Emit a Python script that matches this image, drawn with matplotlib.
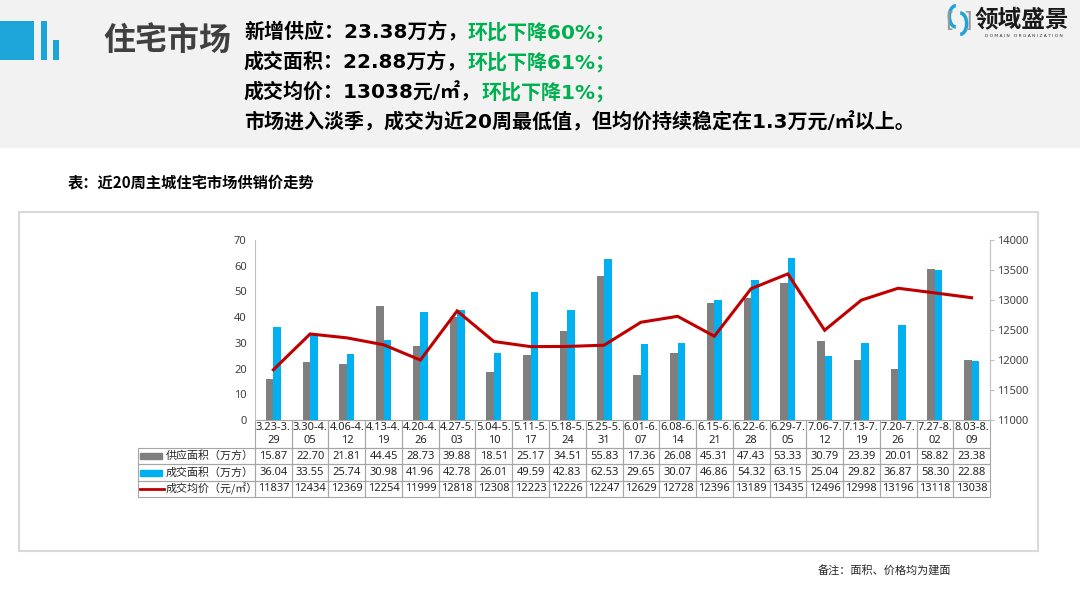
import matplotlib
matplotlib.use("Agg")
import matplotlib.pyplot as plt
import numpy as np
from matplotlib.patches import Rectangle, Arc

# data
weeks = ["3.23-3.29", "3.30-4.05", "4.06-4.12", "4.13-4.19", "4.20-4.26",
         "4.27-5.03", "5.04-5.10", "5.11-5.17", "5.18-5.24", "5.25-5.31",
         "6.01-6.07", "6.08-6.14", "6.15-6.21", "6.22-6.28", "6.29-7.05",
         "7.06-7.12", "7.13-7.19", "7.20-7.26", "7.27-8.02", "8.03-8.09"]
supply = [15.87, 22.70, 21.81, 44.45, 28.73, 39.88, 18.51, 25.17, 34.51, 55.83,
          17.36, 26.08, 45.31, 47.43, 53.33, 30.79, 23.39, 20.01, 58.82, 23.38]
deal = [36.04, 33.55, 25.74, 30.98, 41.96, 42.78, 26.01, 49.59, 42.83, 62.53,
        29.65, 30.07, 46.86, 54.32, 63.15, 25.04, 29.82, 36.87, 58.30, 22.88]
price = [11837, 12434, 12369, 12254, 11999, 12818, 12308, 12223, 12226, 12247,
         12629, 12728, 12396, 13189, 13435, 12496, 12998, 13196, 13118, 13038]
row_names = ["供应面积（万方）", "成交面积（万方）", "成交均价（元/㎡）"]

GRAY = "#7F7F7F"
BLUE = "#00B0F0"
RED = "#C00000"
GREEN = "#00B050"

W, H = 1080, 608
CJK = ["Noto Sans CJK SC", "DejaVu Sans"]
MIX = ["DejaVu Sans", "Noto Sans CJK SC"]
NUM = ["Noto Sans", "Noto Sans CJK SC"]


def px(x, y):
    return x / W, 1 - y / H


fig = plt.figure(figsize=(10.8, 6.08), dpi=100)
fig.patch.set_facecolor("white")

# header band
fig.patches.append(Rectangle(px(0, 148), 1, 148 / H, transform=fig.transFigure,
                             facecolor="#F2F2F2", edgecolor="none", zorder=0))
for x0, x1, y0 in [(0, 34, 21), (41, 47, 21), (53, 59, 40)]:
    fig.patches.append(Rectangle(px(x0, 60), (x1 - x0) / W, (60 - y0) / H,
                                 transform=fig.transFigure, facecolor="#1CA5D8",
                                 edgecolor="none", zorder=1))

fig.text(*px(103, 41), "住宅市场", family=CJK, fontsize=23, fontweight="bold",
         color="#404040", va="center", ha="left")

renderer = fig.canvas.get_renderer()


def seg_line(x, y, parts, size=14.4):
    # draw coloured pieces one after another on one line
    xf, yf = px(x, y)
    for s, c in parts:
        t = fig.text(xf, yf, s, family=MIX, fontsize=size, fontweight="bold",
                     color=c, va="center", ha="left")
        bb = t.get_window_extent(renderer=renderer)
        xf = bb.x1 / W


seg_line(244, 32, [("新增供应：23.38万方，", "black"), ("环比下降60%；", GREEN)])
seg_line(244, 62, [("成交面积：22.88万方，", "black"), ("环比下降61%；", GREEN)])
seg_line(244, 92, [("成交均价：13038元/㎡，", "black"), ("环比下降1%；", GREEN)])
seg_line(244, 122, [("市场进入淡季，成交为近20周最低值，但均价持续稳定在1.3万元/㎡以上。", "black")])

# logo
fig.text(*px(1022, 19), "领域盛景", family=CJK, fontsize=17, fontweight="bold",
         color="#1a1a1a", va="center", ha="center")
fig.text(*px(1024, 36), "D O M A I N   O R G A N I Z A T I O N", family=["DejaVu Sans"],
         fontsize=3.2, color="#333333", va="center", ha="center")
lx, ly = px(958, 20)
fig.patches.append(Arc((lx - 0.002, ly + 0.006), 0.012, 0.035, theta1=90, theta2=270,
                       transform=fig.transFigure, color="#1CA5D8", lw=2.5))
fig.patches.append(Arc((lx + 0.002, ly - 0.006), 0.012, 0.035, theta1=270, theta2=90,
                       transform=fig.transFigure, color="#1CA5D8", lw=2.5))
fig.text(*px(949, 21), "[", family=["DejaVu Sans"], fontsize=16, color="#999999",
         va="center", ha="center")
fig.text(*px(968, 21), "]", family=["DejaVu Sans"], fontsize=16, color="#999999",
         va="center", ha="center")

# chart title and frame
fig.text(*px(68, 183), "表：近20周主城住宅市场供销价走势", family=CJK, fontsize=11,
         fontweight="bold", color="black", va="center", ha="left")
fig.patches.append(Rectangle(px(19, 551), (1038 - 19) / W, (551 - 212) / H,
                             transform=fig.transFigure, facecolor="none",
                             edgecolor="#D9D9D9", lw=1.5, zorder=1))
fig.text(*px(818, 571), "备注：面积、价格均为建面", family=CJK, fontsize=8,
         color="#262626", va="center", ha="left")

# plot area
left, right, top, bottom = 255, 990, 240, 420
ax = fig.add_axes([left / W, 1 - bottom / H, (right - left) / W, (bottom - top) / H])
ax.set_facecolor("none")
x = np.arange(len(weeks))
bw = 0.205
ax.bar(x - bw / 2, supply, bw, color=GRAY, zorder=2)
ax.bar(x + bw / 2, deal, bw, color=BLUE, zorder=2)
ax.set_xlim(-0.5, len(weeks) - 0.5)
ax.set_ylim(0, 70)
ax.set_yticks(range(0, 71, 10))
ax.set_xticks([])
for s in ["top", "right", "bottom"]:
    ax.spines[s].set_visible(False)
ax.spines["left"].set_color("#BFBFBF")
ax.tick_params(axis="y", length=0, pad=6, labelsize=8, labelcolor="#404040")
for lab in ax.get_yticklabels():
    lab.set_family(NUM)

ax2 = ax.twinx()
ax2.plot(x, price, color=RED, lw=2.2, solid_joinstyle="miter")
ax2.set_ylim(11000, 14000)
ax2.set_yticks(range(11000, 14001, 500))
for s in ["top", "left", "bottom"]:
    ax2.spines[s].set_visible(False)
ax2.spines["right"].set_color("#BFBFBF")
ax2.tick_params(axis="y", length=3, pad=2, color="#BFBFBF", labelsize=8,
                labelcolor="#404040")
for lab in ax2.get_yticklabels():
    lab.set_family(NUM)

# data table under the plot
ax_h = bottom - top
ax_w = right - left
label_w = (254 - 137) / ax_w
tab_h = (497 - 420) / ax_h
cell_text = [[""] + [f"{v:.2f}" for v in supply],
             [""] + [f"{v:.2f}" for v in deal],
             [""] + [str(v) for v in price]]
col_labels = [""] + [w[:7] + "\n" + w[7:] for w in weeks]
tab = ax.table(cellText=cell_text, colLabels=col_labels, cellLoc="center",
               colWidths=[label_w] + [1 / len(weeks)] * len(weeks),
               bbox=[-label_w, -tab_h, 1 + label_w, tab_h])
tab.auto_set_font_size(False)
tab.set_fontsize(8)
for (r, c), cell in tab.get_celld().items():
    cell.set_edgecolor("#A6A6A6")
    cell.set_linewidth(0.8)
    cell.set_facecolor("none")
    cell.get_text().set_color("#262626")
    cell.get_text().set_family(NUM)
    cell.set_height(28 if r == 0 else 16.3)
tab[(0, 0)].visible_edges = "open"

# row labels with legend keys
row_y = [456, 472.5, 489]
for i, name in enumerate(row_names):
    yy = (bottom - row_y[i]) / ax_h
    x0 = (140 - left) / ax_w
    x1 = (162 - left) / ax_w
    if i < 2:
        ax.add_patch(Rectangle((x0, yy - 3 / ax_h), x1 - x0, 6 / ax_h,
                               transform=ax.transAxes, color=[GRAY, BLUE][i],
                               clip_on=False))
    else:
        ax.plot([x0, (164 - left) / ax_w], [yy, yy], transform=ax.transAxes,
                color=RED, lw=2, clip_on=False)
    ax.text((166 - left) / ax_w, yy, name, transform=ax.transAxes, family=CJK,
            fontsize=7.9, color="#262626", va="center", ha="left")

fig.savefig("out.png", dpi=100)
